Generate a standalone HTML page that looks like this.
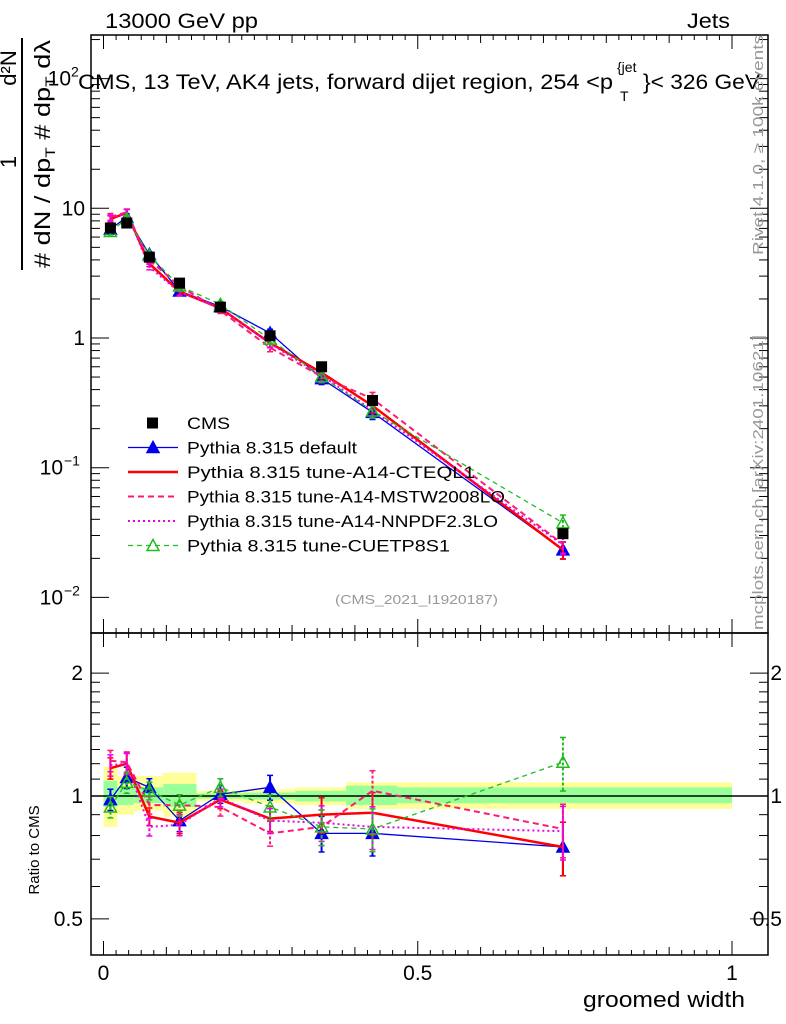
<!DOCTYPE html>
<html><head><meta charset="utf-8"><style>
body{margin:0;background:#fff}
svg{display:block;font-family:"Liberation Sans",sans-serif}
</style></head><body>
<svg id="c" width="786" height="1024" viewBox="0 0 786 1024" xmlns="http://www.w3.org/2000/svg">
<g id="bands"></g>
<g id="axes"></g>
<g id="series"></g>
<text x="105" y="28" font-size="21" textLength="153" lengthAdjust="spacingAndGlyphs">13000 GeV pp</text>
<text x="687" y="28" font-size="21" textLength="43" lengthAdjust="spacingAndGlyphs">Jets</text>
<g font-size="21">
<text x="78" y="89" textLength="535" lengthAdjust="spacingAndGlyphs">CMS, 13 TeV, AK4 jets, forward dijet region, 254 &lt;p</text>
<text x="620" y="101" font-size="14">T</text>
<text x="617" y="72" font-size="14">{jet</text>
<text x="643" y="89" textLength="117" lengthAdjust="spacingAndGlyphs">}&lt; 326 GeV</text>
</g>
<text x="335" y="604" font-size="13" fill="#999" textLength="163" lengthAdjust="spacingAndGlyphs">(CMS_2021_I1920187)</text>
<text transform="translate(763,255) rotate(-90)" font-size="15" fill="#999" textLength="220" lengthAdjust="spacingAndGlyphs">Rivet 4.1.0, ≥ 100k events</text>
<text transform="translate(763,630) rotate(-90)" font-size="15" fill="#999" textLength="295" lengthAdjust="spacingAndGlyphs">mcplots.cern.ch [arXiv:2401.10621]</text>
<g font-size="22">
<line x1="22" y1="270" x2="22" y2="38" stroke="#000" stroke-width="2"/>
<text transform="translate(16,162) rotate(-90)" text-anchor="middle">1</text>
<text transform="translate(16,68) rotate(-90)" text-anchor="middle">d²N</text>
<text transform="translate(50,268) rotate(-90)" textLength="228" lengthAdjust="spacingAndGlyphs"># dN / dp<tspan font-size="14" dy="5">T</tspan><tspan dy="-5"> # dp</tspan><tspan font-size="14" dy="5">T</tspan><tspan dy="-5"> dλ</tspan></text>
</g>
<text transform="translate(39,850) rotate(-90)" font-size="15" text-anchor="middle">Ratio to CMS</text>
<text x="583" y="1007" font-size="22" textLength="162" lengthAdjust="spacingAndGlyphs">groomed width</text>
<g id="legend"></g>
</svg>
<script>
const xVals=[0.011,0.037,0.073,0.121,0.186,0.265,0.347,0.428,0.731];
const cmsVals=[7.05,7.7,4.2,2.65,1.73,1.04,0.6,0.33,0.031];
const ratioDefault=[0.98,1.11,1.05,0.87,1.01,1.05,0.81,0.81,0.75];
const ratioCTEQ=[1.17,1.2,0.89,0.86,0.98,0.88,0.9,0.91,0.75];
const ratioMSTW=[1.22,1.21,0.95,0.95,0.94,0.81,0.84,1.03,0.83];
const ratioNNPDF=[1.19,1.2,0.84,0.85,0.99,0.87,0.86,0.84,0.82];
const ratioCUETP=[0.94,1.08,1.03,0.95,1.05,0.94,0.84,0.83,1.21];
const binEdges=[0,0.022,0.048,0.095,0.148,0.223,0.305,0.386,0.467,1.0];
const yellowUp=[1.18,1.12,1.12,1.14,1.03,1.04,1.05,1.08,1.08];
const yellowDn=[0.84,0.9,0.92,0.89,0.97,0.96,0.95,0.93,0.93];
const greenUp=[1.09,1.05,1.05,1.07,1.015,1.02,1.03,1.06,1.05];
const greenDn=[0.94,0.95,0.96,0.94,0.985,0.98,0.97,0.95,0.96];
const relErr=[0.06,0.06,0.05,0.06,0.05,0.07,0.1,0.12,0.15];

const NS="http://www.w3.org/2000/svg";
const L=91,R=768,T=35,MB=633,RB=955;
const X=v=>103.5+v*628.5;
const Y=v=>338-Math.log10(v)*129.7;
const YR=v=>796-Math.log10(v)*408;
function mk(p,tag,a){const e=document.createElementNS(NS,tag);for(const k in a)e.setAttribute(k,a[k]);p.appendChild(e);return e;}
const axes=document.getElementById('axes'),bands=document.getElementById('bands'),ser=document.getElementById('series');

for(let i=0;i<binEdges.length-1;i++){
 let r=mk(bands,'rect',{x:X(binEdges[i]),y:YR(yellowUp[i]),width:X(binEdges[i+1])-X(binEdges[i]),height:YR(yellowDn[i])-YR(yellowUp[i]),fill:'#ffff99'});
 
 
 let g=mk(bands,'rect',{x:X(binEdges[i]),y:YR(greenUp[i]),width:X(binEdges[i+1])-X(binEdges[i]),height:YR(greenDn[i])-YR(greenUp[i]),fill:'#99ff99'});
 
 
}
mk(axes,'line',{x1:L,x2:R,y1:YR(1),y2:YR(1),stroke:'#000','stroke-width':1.5});
mk(axes,'rect',{x:L,y:T,width:R-L,height:MB-T,fill:'none',stroke:'#000','stroke-width':1.5});
mk(axes,'rect',{x:L,y:MB,width:R-L,height:RB-MB,fill:'none',stroke:'#000','stroke-width':1.5});
for(let i=0;i<=50;i++){const v=i*0.02;const len=i%5==0?(i%25==0?14:8):5;
 [[T,1],[MB,-1],[MB,1],[RB,-1]].forEach(([y0,d])=>mk(axes,'line',{x1:X(v),x2:X(v),y1:y0,y2:y0+d*len,stroke:'#000'}));}
[['0',0],['0.5',0.5],['1',1]].forEach(([t,v])=>{const e=mk(axes,'text',{x:X(v),y:980,'font-size':21,'text-anchor':'middle'});e.textContent=t;
 
 });
for(let d=-2;d<=2;d++)for(let m=1;m<10;m++){const v=m*Math.pow(10,d);const y=Y(v);if(y<T||y>MB)continue;const len=m==1?18:9;
 mk(axes,'line',{x1:L,x2:L+len,y1:y,y2:y,stroke:'#000'});mk(axes,'line',{x1:R,x2:R-len,y1:y,y2:y,stroke:'#000'});}
const mainTicks=[['10',10],['1',1]];
mainTicks.forEach(([t,v])=>{const e=mk(axes,'text',{x:L-6,y:Y(v)+7,'font-size':21,'text-anchor':'end'});e.textContent=t;
 
 });
[[-1],[-2]].forEach(([d])=>{const e=mk(axes,'text',{x:L-28,y:Y(Math.pow(10,d))+7,'font-size':21,'text-anchor':'end'});e.textContent='10';
 
 
 const s=mk(axes,'text',{x:L-27,y:Y(Math.pow(10,d))-2,'font-size':14});s.textContent='−'+(-d);});
{const e=mk(axes,'text',{x:L-20,y:Y(100)+7,'font-size':21,'text-anchor':'end'});e.textContent='10';const s=mk(axes,'text',{x:L-20,y:Y(100)-2,'font-size':14});s.textContent='2';}
[0.5,0.6,0.7,0.8,0.9,1,1.1,1.2,1.3,1.4,1.5,1.6,1.7,1.8,1.9,2].forEach(v=>{const major=(v==0.5||v==1||v==2);const len=major?18:9;const y=YR(v);
 mk(axes,'line',{x1:L,x2:L+len,y1:y,y2:y,stroke:'#000'});mk(axes,'line',{x1:R,x2:R-len,y1:y,y2:y,stroke:'#000'});
 if(major){const t=(v==0.5?'0.5':String(v));
  const a=mk(axes,'text',{x:L-8,y:y+7,'font-size':21,'text-anchor':'end'});a.textContent=t;
  
  
  const b=mk(axes,'text',{x:782,y:y+7,'font-size':21,'text-anchor':'end'});b.textContent=t;}});

const seriesDefs=[
 {name:'default',r:ratioDefault,color:'#0000ee',w:1.3,dash:'',mk:'tri'},
 {name:'cteql1',r:ratioCTEQ,color:'#ff0000',w:2.5,dash:'',mk:'none'},
 {name:'mstw2008lo',r:ratioMSTW,color:'#ff1a75',w:2,dash:'6,4',mk:'none'},
 {name:'nnpdf23lo',r:ratioNNPDF,color:'#ee00ee',w:2,dash:'2,3',mk:'none'},
 {name:'cuetp8s1',r:ratioCUETP,color:'#22bb22',w:1.3,dash:'5,4',mk:'otri'}
];
function tri(g,x,y,c,open){return mk(g,'path',{d:`M${x},${y-6}L${x+6},${y+5}L${x-6},${y+5}Z`,fill:open?'none':c,stroke:c,'stroke-width':1.5});}
seriesDefs.forEach(s=>{
 const g=mk(ser,'g',{});
 
 
 const mp=xVals.map((x,i)=>[X(x),Y(cmsVals[i]*s.r[i])]);
 const rp=xVals.map((x,i)=>[X(x),YR(s.r[i])]);
 [mp,rp].forEach((pts,k)=>{
  mk(g,'polyline',{points:pts.map(p=>p.join(',')).join(' '),fill:'none',stroke:s.color,'stroke-width':s.w,'stroke-dasharray':s.dash});
  pts.forEach((p,i)=>{const e=relErr[i];const v=k?s.r[i]:cmsVals[i]*s.r[i];const f=k?YR:Y;
   mk(g,'line',{x1:p[0],x2:p[0],y1:f(v*(1+e)),y2:f(v*(1-e)),stroke:s.color,'stroke-width':2,'stroke-dasharray':s.dash?'3,2':''});
   mk(g,'line',{x1:p[0]-3,x2:p[0]+3,y1:f(v*(1+e)),y2:f(v*(1+e)),stroke:s.color,'stroke-width':1.5});
   mk(g,'line',{x1:p[0]-3,x2:p[0]+3,y1:f(v*(1-e)),y2:f(v*(1-e)),stroke:s.color,'stroke-width':1.5});
   if(s.mk=='tri')tri(g,p[0],p[1],s.color,false);
   if(s.mk=='otri')tri(g,p[0],p[1],s.color,true);});
 });
});
const cg=mk(ser,'g',{});


xVals.forEach((x,i)=>{const px=X(x),py=Y(cmsVals[i]);
 const m=mk(cg,'rect',{x:px-5.5,y:py-5.5,width:11,height:11,fill:'#000'});
 
 });
const lg=document.getElementById('legend');
const items=[['CMS','#000','','sq',1,43],['Pythia 8.315 default','#0000ee','','tri',1.3,170],['Pythia 8.315 tune-A14-CTEQL1','#ff0000','','none',2.5,288],
['Pythia 8.315 tune-A14-MSTW2008LO','#ff1a75','6,4','none',2,318],['Pythia 8.315 tune-A14-NNPDF2.3LO','#ee00ee','2,3','none',2,311],['Pythia 8.315 tune-CUETP8S1','#22bb22','5,4','otri',1.3,263]];
items.forEach((it,i)=>{const y=423+i*24.5;const g=mk(lg,'g',{});
 
 
 if(it[3]!='sq')mk(g,'line',{x1:128,x2:178,y1:y,y2:y,stroke:it[1],'stroke-width':it[4],'stroke-dasharray':it[2]});
 if(it[3]=='sq')mk(g,'rect',{x:147,y:y-5.5,width:11,height:11,fill:'#000'});
 if(it[3]=='tri')tri(g,153,y,it[1],false);
 if(it[3]=='otri')tri(g,153,y,it[1],true);
 const t=mk(g,'text',{x:187,y:y+6,'font-size':17,textLength:it[5],lengthAdjust:'spacingAndGlyphs'});t.textContent=it[0];});
</script>
</body></html>
